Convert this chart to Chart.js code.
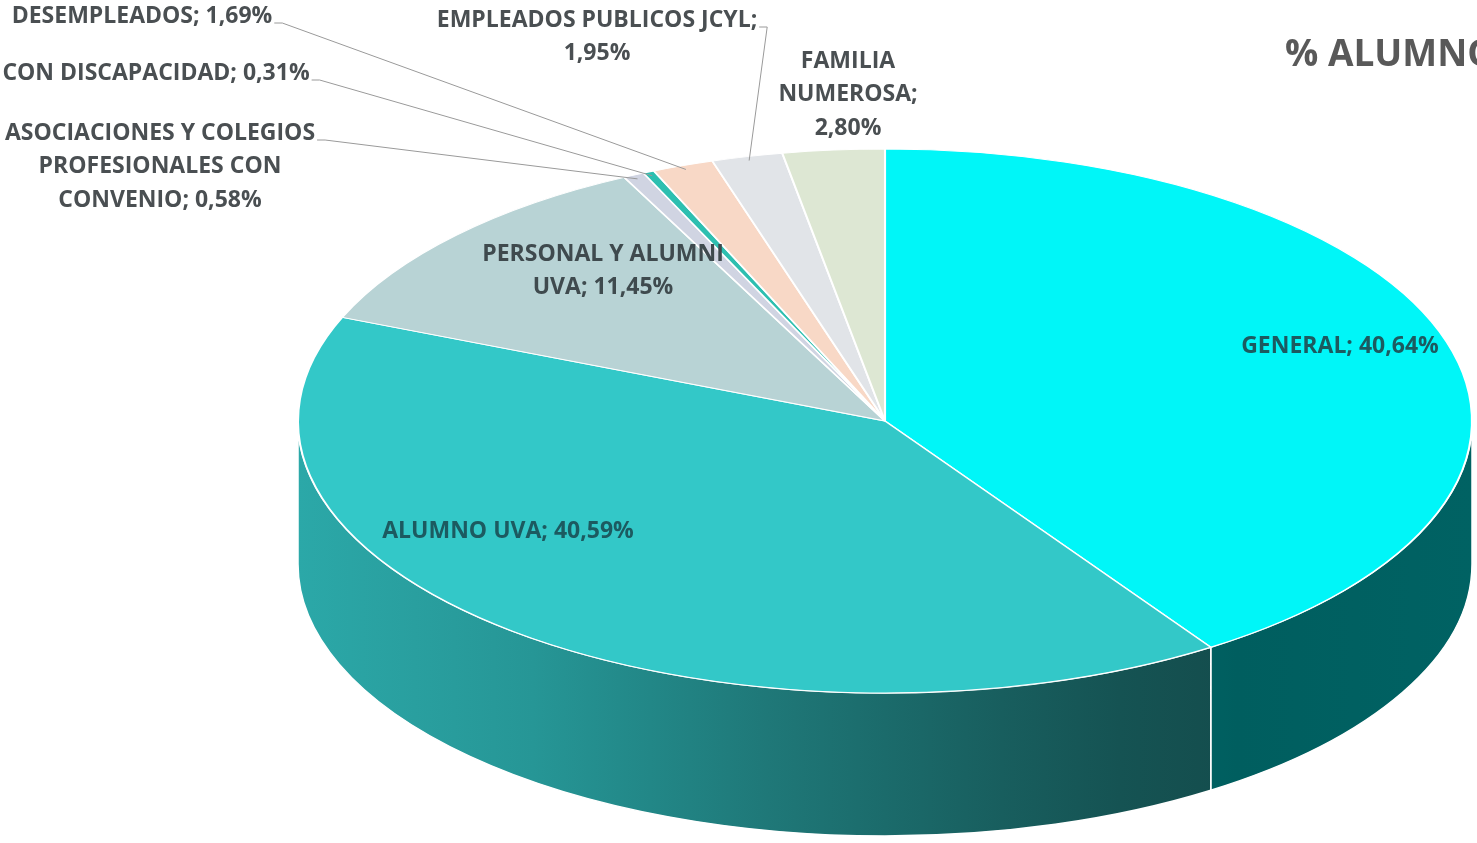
<!DOCTYPE html>
<html><head><meta charset="utf-8">
<script src="https://cdn.jsdelivr.net/npm/chart.js@4.4.1/dist/chart.umd.min.js"></script>
<style>html,body{margin:0;padding:0;background:#fff;overflow:hidden}#wrap{width:1477px;height:843px;position:relative}</style>
</head><body><div id="wrap"><canvas id="c"></canvas></div>
<script>
// ---- data ----
const categories = ['GENERAL','ALUMNO UVA','PERSONAL Y ALUMNI UVA','ASOCIACIONES Y COLEGIOS PROFESIONALES CON CONVENIO','CON DISCAPACIDAD','DESEMPLEADOS','EMPLEADOS PUBLICOS JCYL','FAMILIA NUMEROSA'];
const percentages = [40.64, 40.59, 11.45, 0.58, 0.31, 1.69, 1.95, 2.80];
const sliceColors = ['#00f6f8','#33c8c8','#b8d3d5','#d0d4e2','#2dbfb0','#f8d8c6','#e1e4e8','#dde7d3'];
const chartTitle = '% ALUMNOS';

// ---- layout / style ----
const GEO = {cx: 885, cy: 421, rx: 587, ry: 272, depth: 143};
const FONT = 'bold 23px "Open Sans", Lato, sans-serif';
const LINE_H = 33.5;
const labelLayout = [
  {x:1340, y:346, wrap:420, color:'#1c5a60'},
  {x:508,  y:531, wrap:420, color:'#1c5a60'},
  {x:603,  y:254, wrap:262, color:'#3f4a4e'},
  {x:160,  y:133, wrap:322, color:'#4a4f52', leader:true},
  {x:156,  y:73,  wrap:420, color:'#4a4f52', leader:true},
  {x:142,  y:16,  wrap:420, color:'#4a4f52', leader:true},
  {x:597,  y:20,  wrap:335, color:'#4a4f52', leader:true},
  {x:848,  y:61,  wrap:150, color:'#4a4f52'}
];

function fmt(v){ return v.toFixed(2).replace('.', ','); }
function shadeAt(t){
  const pts=[[0,0.84],[0.2,0.75],[0.43,0.58],[0.6,0.47],[0.77,0.38],[1,0.40]];
  for(let i=1;i<pts.length;i++){ if(t<=pts[i][0]){const [t0,f0]=pts[i-1],[t1,f1]=pts[i];return f0+(f1-f0)*(t-t0)/(t1-t0);} }
  return 0.4;
}
function hexRgb(h){return [parseInt(h.slice(1,3),16),parseInt(h.slice(3,5),16),parseInt(h.slice(5,7),16)];}
function wrapText(ctx, text, maxW){
  const words=text.split(' '); const lines=[]; let cur='';
  for(const w of words){ const test=cur?cur+' '+w:w; if(ctx.measureText(test).width>maxW && cur){lines.push(cur);cur=w;} else cur=test; }
  if(cur) lines.push(cur); return lines;
}

const threeD = {
  id:'threeD',
  beforeDatasetsDraw(chart){
    const ctx = chart.ctx;
    const meta = chart.getDatasetMeta(0);
    const a0 = meta.data[0];
    const {cx, cy, rx, ry, depth} = GEO;
    meta.data.forEach((arc, i)=>{
      const s = Math.max(arc.startAngle, 0), e = Math.min(arc.endAngle, Math.PI);
      if (e <= s) return;
      const base = hexRgb(sliceColors[i]);
      const g = ctx.createLinearGradient(cx-rx, 0, cx+rx, 0);
      for (let k=0;k<=10;k++){ const t=k/10, f=shadeAt(t);
        g.addColorStop(t, `rgb(${Math.round(base[0]*f)},${Math.round(base[1]*f)},${Math.round(base[2]*f)})`); }
      ctx.beginPath();
      ctx.ellipse(cx, cy, rx, ry, 0, s, e, false);
      ctx.ellipse(cx, cy+depth, rx, ry, 0, e, s, true);
      ctx.closePath();
      ctx.fillStyle = g; ctx.fill();
      ctx.strokeStyle = '#ffffff'; ctx.lineWidth = 1.5; ctx.stroke();
    });
    ctx.save();
    ctx.translate(cx, cy);
    ctx.scale(rx/a0.outerRadius, ry/a0.outerRadius);
    ctx.translate(-a0.x, -a0.y);
  },
  afterDatasetsDraw(chart){
    const ctx = chart.ctx;
    ctx.restore();
    const meta = chart.getDatasetMeta(0);
    const {cx, cy, rx, ry} = GEO;
    ctx.save();
    ctx.font = FONT; ctx.textBaseline = 'middle'; ctx.textAlign = 'center';
    meta.data.forEach((arc, i)=>{
      const L = labelLayout[i];
      const lines = wrapText(ctx, categories[i] + '; ' + fmt(percentages[i]) + '%', L.wrap);
      if (L.leader){
        const mid = (arc.startAngle + arc.endAngle)/2;
        const ex = cx + rx*0.985*Math.cos(mid), ey = cy + ry*0.985*Math.sin(mid);
        const w = ctx.measureText(lines[0]).width;
        const sx = L.x + w/2 + 2, sy = L.y + 7;
        ctx.beginPath(); ctx.moveTo(sx, sy); ctx.lineTo(sx+8, sy); ctx.lineTo(ex, ey);
        ctx.strokeStyle = '#9a9a9a'; ctx.lineWidth = 1; ctx.stroke();
      }
      ctx.fillStyle = L.color;
      lines.forEach((ln, j)=> ctx.fillText(ln, L.x, L.y + j*LINE_H));
    });
    ctx.font = 'bold 37px "Open Sans", Lato, sans-serif';
    ctx.fillStyle = '#595959'; ctx.textAlign = 'left';
    ctx.fillText(chartTitle, 1285, 55);
    ctx.restore();
  }
};

new Chart(document.getElementById('c'), {
  type: 'pie',
  data: { labels: categories, datasets: [{ data: percentages, backgroundColor: sliceColors, borderColor: '#ffffff', borderWidth: 1.5 }] },
  options: {
    responsive: true, maintainAspectRatio: false, animation: false, events: [],
    layout: { padding: 0 },
    plugins: { legend: { display: false }, tooltip: { enabled: false }, title: { display: false } }
  },
  plugins: [threeD]
});
</script></body></html>
